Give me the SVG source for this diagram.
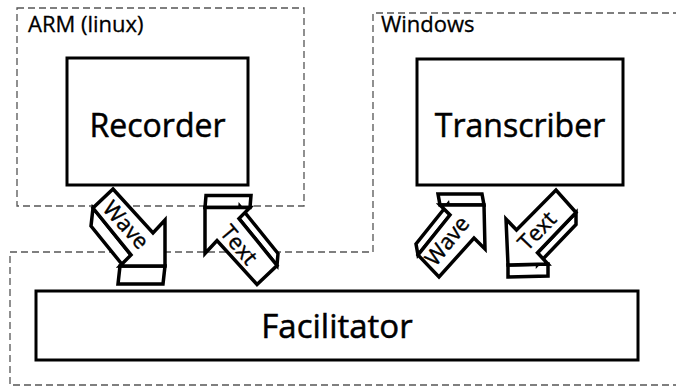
<svg xmlns="http://www.w3.org/2000/svg" width="676" height="388" viewBox="0 0 676 388">
  <style>
    .zone { fill: none; stroke: #555; stroke-width: 1.3; stroke-dasharray: 7 4; }
    .zone-label { font-family: "Open Sans", "Noto Sans", sans-serif; font-size: 22px; fill: #000; stroke: #000; stroke-width: 0.3; }
    .box { fill: #fff; stroke: #000; stroke-width: 3; }
    .box-label { font-family: "Open Sans", "Noto Sans", sans-serif; font-size: 32px; fill: #000; stroke: #000; stroke-width: 0.5; text-anchor: middle; }
    .arrow polygon { fill: #fff; stroke: #000; stroke-width: 3.5; stroke-linejoin: miter; }
    .arrow-label { font-family: "Open Sans", "Noto Sans", sans-serif; font-size: 22px; fill: #000; stroke: #000; stroke-width: 0.4; text-anchor: middle; dominant-baseline: central; }
  </style>

  <!-- deployment zones -->
  <g id="zones">
    <rect class="zone" x="17" y="8" width="287" height="198"/>
    <path class="zone" d="M 680 13 H 373 V 252 H 10 V 385 H 680"/>
    <text class="zone-label" x="28" y="32">ARM (linux)</text>
    <text class="zone-label" x="381" y="32">Windows</text>
  </g>

  <!-- components -->
  <g id="recorder">
    <rect class="box" x="67" y="58" width="181" height="127"/>
    <text class="box-label" x="157.5" y="137">Recorder</text>
  </g>
  <g id="transcriber">
    <rect class="box" x="417" y="59" width="206" height="126"/>
    <text class="box-label" x="520" y="137">Transcriber</text>
  </g>
  <g id="facilitator">
    <rect class="box" x="36" y="291" width="602" height="69"/>
    <text class="box-label" x="337" y="338" style="font-size:33px">Facilitator</text>
  </g>

  <!-- data flows: extruded block arrows -->
  <g id="connectors">
    <!-- Recorder to Facilitator -->
    <g class="arrow" id="flow-wave-recorder">
      <polygon points="93,208 131,255 129,273 91,226"/>
      <polygon points="120,266 165,266 163,284 118,284"/>
      <polygon points="113,189 153,233 165,220 165,266 120,266 131,255 93,208"/>
      <text class="arrow-label" transform="translate(127,224) rotate(48)">Wave</text>
    </g>
    <!-- Facilitator to Recorder -->
    <g class="arrow" id="flow-text-recorder">
      <polygon points="205,207.5 250,207.5 251,195.5 206,195.5"/>
      <polygon points="239,218.5 277,265.5 278,253.5 240,206.5"/>
      <polygon points="205,207.5 250,207.5 239,218.5 277,265.5 257,284.5 217,240.5 205,253.5"/>
      <text class="arrow-label" transform="translate(240,244) rotate(50)">Text</text>
    </g>
    <!-- Facilitator to Transcriber -->
    <g class="arrow" id="flow-wave-transcriber">
      <polygon points="440,205 484,205 482,194 438,194"/>
      <polygon points="450,215 418,255 416,244 448,204"/>
      <polygon points="484,205 485,249 474,238 439,277 418,255 450,215 440,205"/>
      <text class="arrow-label" transform="translate(446,240) rotate(-51)">Wave</text>
    </g>
    <!-- Transcriber to Facilitator -->
    <g class="arrow" id="flow-text-transcriber">
      <polygon points="508,265 548,264 548,276 508,277"/>
      <polygon points="537.5,252.75 576,212.5 576,224.5 537.5,264.75"/>
      <polygon points="508,265 506,219 516.5,230 556,190 576,212.5 537.5,252.75 548,264"/>
      <text class="arrow-label" transform="translate(536,230) rotate(-46)">Text</text>
    </g>
  </g>
</svg>
